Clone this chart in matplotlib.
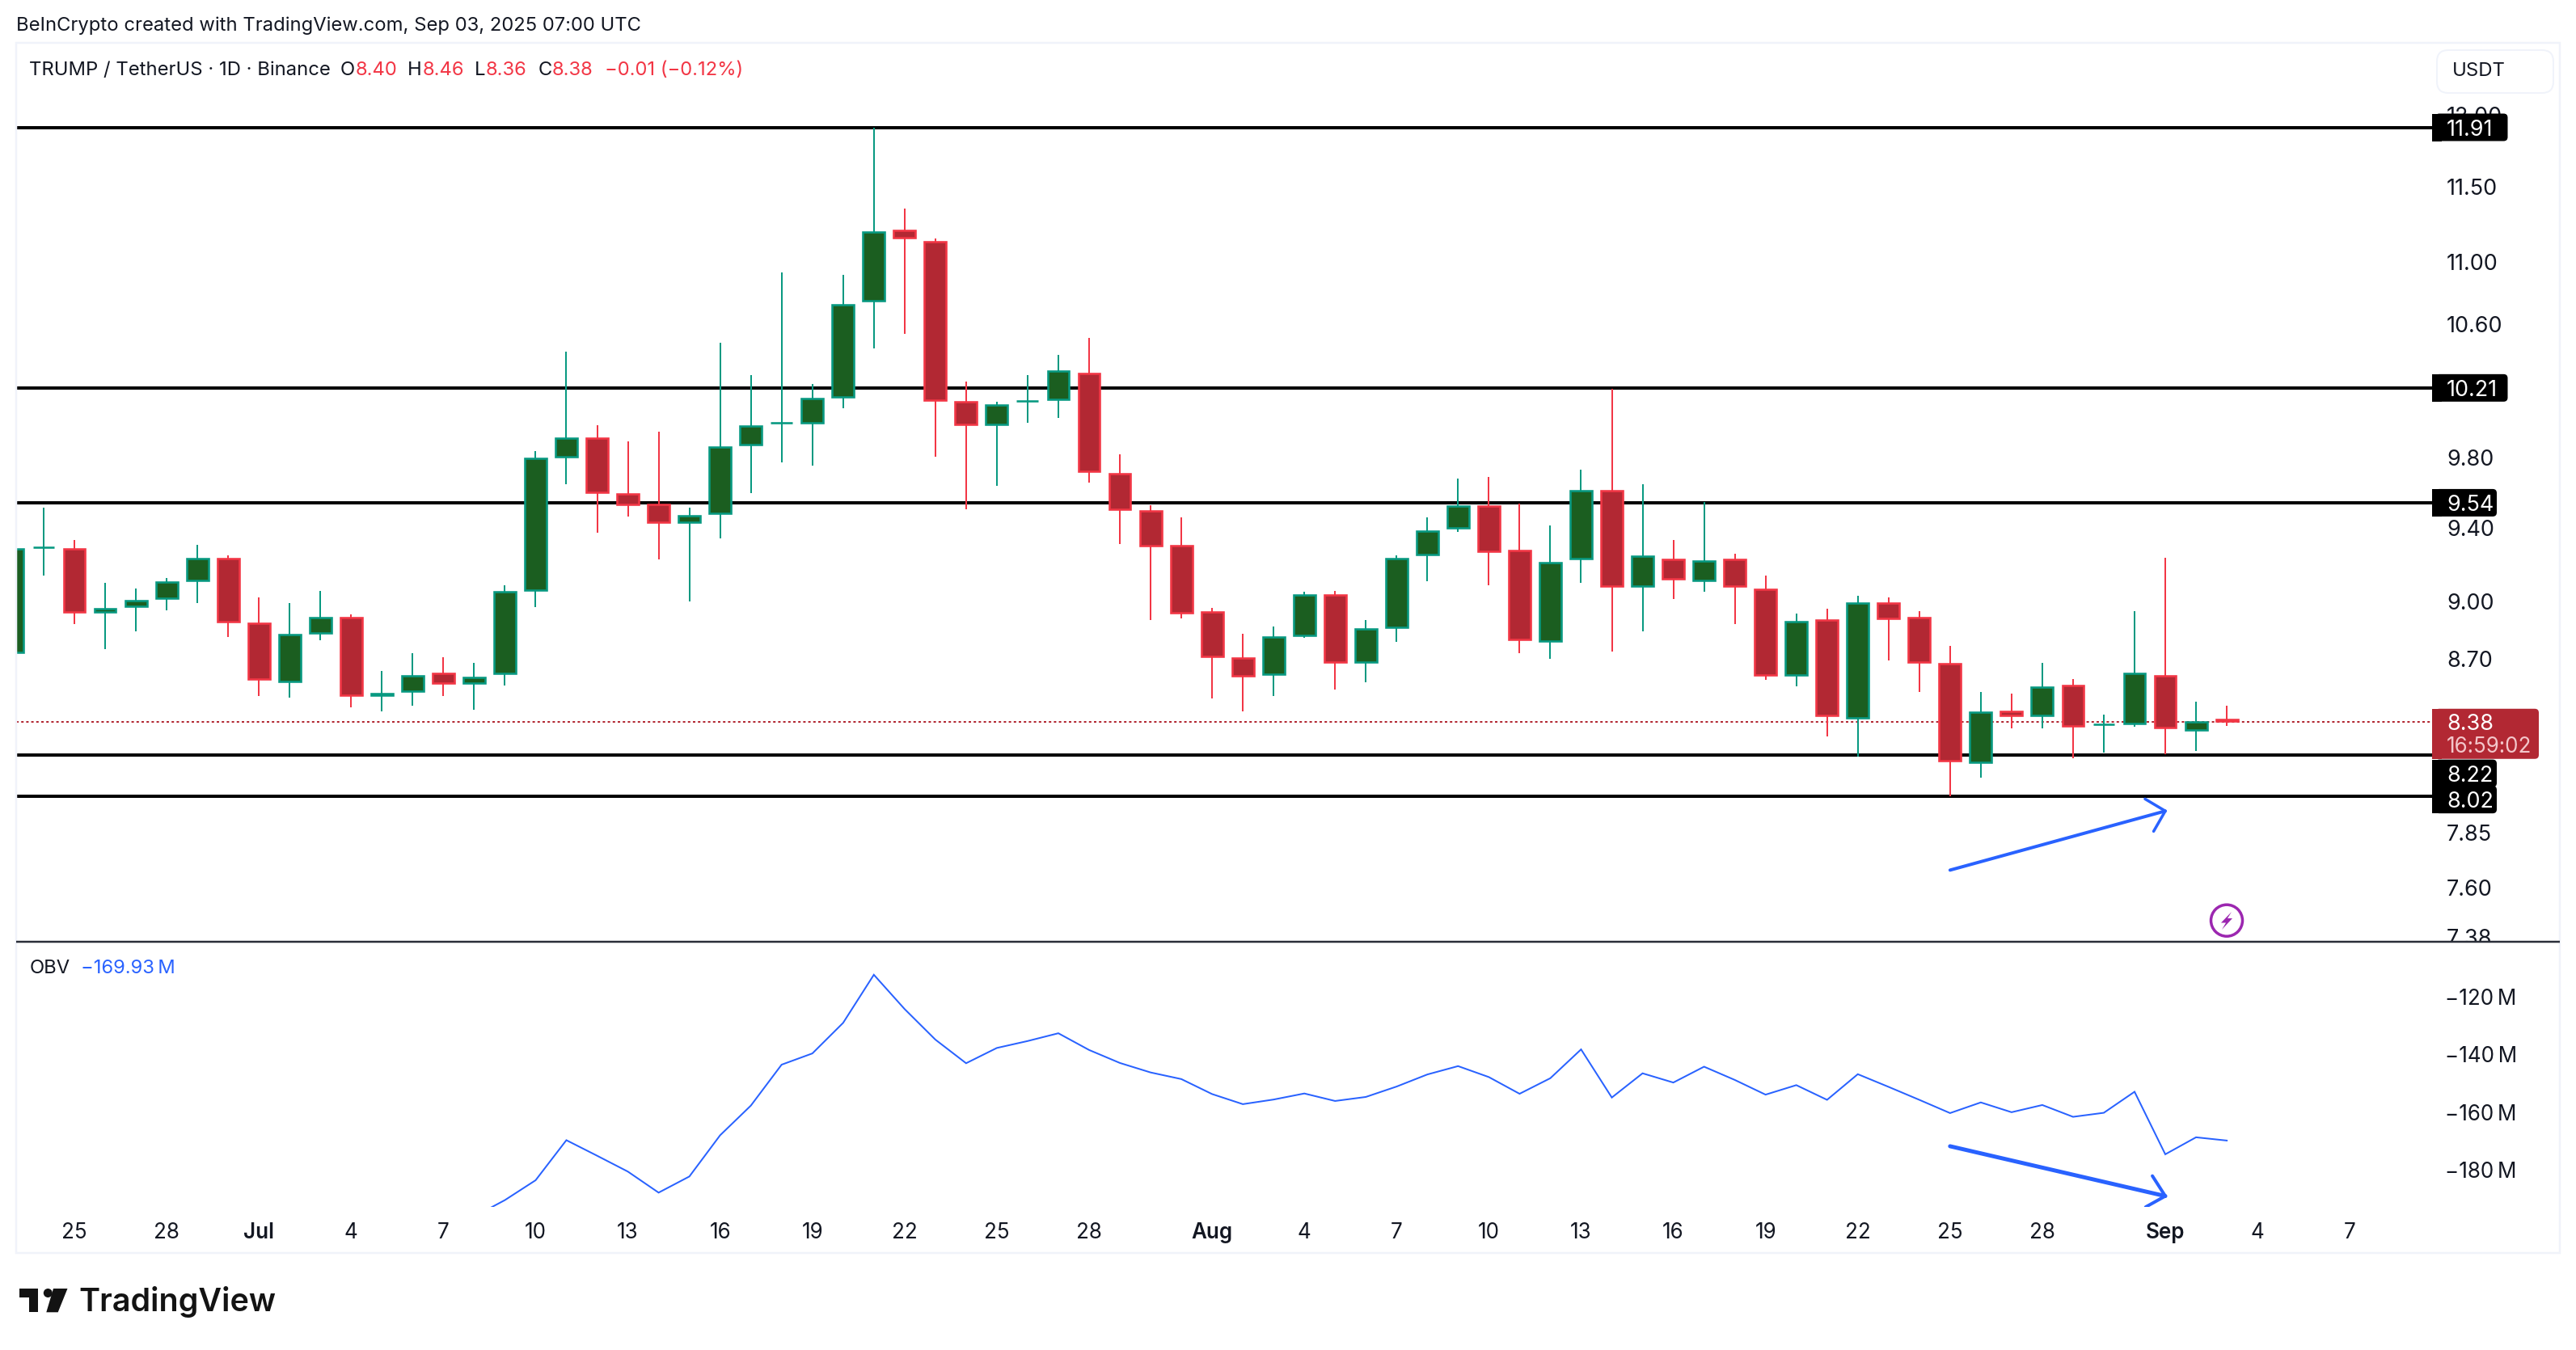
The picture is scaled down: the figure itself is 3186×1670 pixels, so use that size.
import numpy as np
import matplotlib
matplotlib.use("Agg")
import matplotlib.pyplot as plt
from matplotlib.patches import Rectangle, FancyBboxPatch, Circle, Polygon

W, H = 3186, 1670

# ---- data -------------------------------------------------------------
# day offset from 25 Jun 2025
days = list(range(-2, 71))
opens = [8.728,9.288,9.288,8.936,8.966,9.009,9.107,9.234,8.889,8.577,8.829,8.919,8.507,8.528,8.630,8.569,8.618,9.056,9.799,9.917,9.594,9.535,9.427,9.475,9.865,9.999,9.996,10.150,10.745,11.215,11.137,10.134,9.987,10.128,10.134,10.306,9.713,9.499,9.306,8.949,8.708,8.616,8.815,9.039,8.677,8.857,9.245,9.394,9.526,9.279,8.785,9.223,9.616,9.077,9.233,9.107,9.233,9.069,8.611,8.906,8.397,8.996,8.920,8.679,8.180,8.437,8.409,8.567,8.366,8.367,8.617,8.336,8.40]
closes = [9.288,9.292,8.936,8.966,9.009,9.107,9.234,8.889,8.589,8.829,8.919,8.507,8.528,8.618,8.569,8.609,9.056,9.799,9.917,9.594,9.526,9.427,9.475,9.865,9.987,10.007,10.150,10.733,11.205,11.151,10.128,9.987,10.114,10.136,10.317,9.714,9.499,9.295,8.934,8.706,8.608,8.816,9.039,8.677,8.859,9.234,9.387,9.526,9.263,8.793,9.216,9.616,9.077,9.247,9.117,9.224,9.077,8.611,8.899,8.409,8.996,8.906,8.679,8.187,8.436,8.409,8.559,8.356,8.374,8.629,8.348,8.388,8.38]
highs = [9.288,9.510,9.330,9.100,9.070,9.126,9.307,9.249,9.019,8.989,9.057,8.929,8.639,8.729,8.709,8.680,9.087,9.838,10.429,9.989,9.890,9.947,9.510,10.488,10.290,10.929,10.236,10.918,11.91,11.349,11.153,10.246,10.127,10.290,10.409,10.518,9.819,9.528,9.460,8.967,8.830,8.869,9.049,9.056,8.899,9.249,9.460,9.678,9.687,9.535,9.411,9.730,10.206,9.645,9.330,9.546,9.258,9.139,8.937,8.959,9.028,9.019,8.950,8.766,8.529,8.521,8.680,8.598,8.418,8.950,9.235,8.480,8.46]
lows = [8.728,9.140,8.879,8.751,8.840,8.952,8.990,8.811,8.510,8.501,8.797,8.452,8.432,8.461,8.510,8.440,8.563,8.969,9.646,9.371,9.461,9.227,8.999,9.340,9.596,9.769,9.752,10.090,10.450,10.540,9.802,9.502,9.637,10.001,10.029,9.655,9.309,8.899,8.908,8.498,8.432,8.510,8.809,8.541,8.578,8.788,9.109,9.379,9.087,8.729,8.701,9.100,8.737,8.840,9.011,9.051,8.880,8.591,8.560,8.311,8.209,8.690,8.530,8.021,8.111,8.350,8.350,8.202,8.229,8.358,8.221,8.240,8.36]

obv_days = list(range(13, 71))
obv = [-196.3,-190.6,-183.7,-169.8,-175.2,-180.7,-188.0,-182.4,-168.1,-157.8,-143.6,-139.7,-129.1,-112.4,-124.3,-134.9,-143.1,-137.8,-135.4,-132.7,-138.5,-143.0,-146.3,-148.6,-153.8,-157.3,-155.7,-153.6,-156.2,-154.8,-151.2,-147.0,-144.1,-147.9,-153.7,-148.3,-138.3,-155.0,-146.6,-149.8,-144.3,-148.9,-154.0,-150.7,-155.8,-146.9,-151.3,-155.8,-160.4,-156.7,-160.1,-157.6,-161.7,-160.3,-153.0,-174.7,-168.8,-169.93]

levels = [11.91, 10.21, 9.54, 8.22, 8.02]
last_price = 8.38
price_ticks = [12.00, 11.50, 11.00, 10.60, 9.80, 9.40, 9.00, 8.70, 7.85, 7.60, 7.38]
obv_ticks = [-120, -140, -160, -180]
time_ticks = [0,3,6,9,12,15,18,21,24,27,30,33,37,40,43,46,49,52,55,58,61,64,68,71,74]
time_labels = ["25","28","Jul","4","7","10","13","16","19","22","25","28","Aug","4","7","10","13","16","19","22","25","28","Sep","4","7"]
bold_labels = ["Jul","Aug","Sep"]

# hand-drawn arrows: (day, value) points
arrow_price_line = [(61.0, 7.678), (68.0, 7.951)]
arrow_price_head = [(67.34, 8.008), (68.0, 7.951), (67.62, 7.856)]
arrow_obv_line = [(61.0, -171.9), (68.0, -189.2)]
arrow_obv_head = [(67.58, -182.2), (68.0, -189.2), (67.36, -193.0)]

# ---- styles ------------------------------------------------------------
INK = "#131722"; RED = "#f23645"; RED_FILL = "#b22833"
GREEN = "#089981"; GREEN_FILL = "#1b5e20"; BLUE = "#2962ff"
FONT = "Inter"
plt.rcParams["font.family"] = [FONT, "DejaVu Sans"]

PX = 72 / 100  # points per pixel at dpi=100
X0, PPD = 92.0, 38.03           # pixel of day 0, pixels per day
PANE_L, PANE_R = 20, 3008
P_TOP, P_BOT = 53, 1165
O_BOT = 1493
SCALE = 2093.0                  # pixels per unit of ln(price)
DY = 3                          # optical centring of text

def price_at(y):
    return 11.91 * np.exp(-(y - 157.5) / SCALE)
def price_y(p):
    return 157.5 + SCALE * np.log(11.91 / p)
def obv_at(y):
    return -120 - (y - 1232.9) / 3.565

fig = plt.figure(figsize=(W / 100, H / 100), dpi=100, facecolor="white")

def make_axes(l, r, t, b, **kw):
    ax = fig.add_axes([l / W, 1 - b / H, (r - l) / W, (b - t) / H], **kw)
    for s in ax.spines.values():
        s.set_visible(False)
    ax.set_xticks([]); ax.set_yticks([])
    ax.patch.set_alpha(0)
    return ax

xlim = ((PANE_L - X0) / PPD, (PANE_R - X0) / PPD)

# ---- price pane --------------------------------------------------------
ax = make_axes(PANE_L, PANE_R, P_TOP, P_BOT)
ax.set_yscale("log")
ax.set_xlim(*xlim)
ax.set_ylim(price_at(P_BOT), price_at(P_TOP))
ax.minorticks_off(); ax.set_yticks([]); ax.set_xticks([])

for lv in levels:
    ax.axhline(lv, color="black", lw=4 * PX, zorder=1, solid_capstyle="butt")
ax.axhline(last_price, color=RED_FILL, lw=2 * PX, ls=(0, (1.5, 1.6)), zorder=1.5)

d = np.array(days, float); o = np.array(opens); c = np.array(closes)
hi = np.array(highs); lo = np.array(lows)
up = c >= o
ax.vlines(d[up], lo[up], hi[up], color=GREEN, lw=2 * PX, zorder=2)
ax.vlines(d[~up], lo[~up], hi[~up], color=RED, lw=2 * PX, zorder=2)

edge = 2.6
pad = np.exp(edge / 2 / SCALE)
top = np.maximum(o, c) / pad
bot = np.minimum(o, c) * pad
mid = np.sqrt(o * c)
thin = top <= bot
top[thin] = mid[thin]; bot[thin] = mid[thin]
bw = (29.5 - edge) / PPD
for mask, fc, ec in ((up, GREEN_FILL, GREEN), (~up, RED_FILL, RED)):
    ax.bar(d[mask], (top - bot)[mask], width=bw, bottom=bot[mask], color=fc,
           edgecolor=ec, linewidth=edge * PX, zorder=3)

ax.plot(*zip(*arrow_price_line), color=BLUE, lw=4 * PX, zorder=5, solid_capstyle="round")
ax.plot(*zip(*arrow_price_head), color=BLUE, lw=3.5 * PX, zorder=5,
        solid_capstyle="round", solid_joinstyle="round")

# ---- OBV pane ----------------------------------------------------------
ax2 = make_axes(PANE_L, PANE_R, P_BOT, O_BOT)
ax2.set_xlim(*xlim)
ax2.set_ylim(obv_at(O_BOT), obv_at(P_BOT))
ax2.plot(obv_days, obv, color=BLUE, lw=2 * PX, zorder=3, solid_joinstyle="miter")
ax2.plot(*zip(*arrow_obv_line), color=BLUE, lw=5 * PX, zorder=5, solid_capstyle="round")
ax2.plot(*zip(*arrow_obv_head), color=BLUE, lw=4 * PX, zorder=5,
         solid_capstyle="round", solid_joinstyle="round")

# ---- price scale -------------------------------------------------------
ps = make_axes(PANE_R, 3166, P_TOP, P_BOT)
ps.set_xlim(PANE_R, 3166)
ps.set_ylim(P_BOT, P_TOP)   # pixel rows, filled from the price scale below
for t in price_ticks:
    ps.text(3026, price_y(t) + DY, f"{t:.2f}", fontsize=27 * PX, color=INK, va="center", ha="left",
            clip_on=True, zorder=1)

# ---- overlay in pixel coordinates -------------------------------------
ov = fig.add_axes([0, 0, 1, 1], zorder=10)
ov.set_xlim(0, W); ov.set_ylim(H, 0); ov.axis("off"); ov.patch.set_alpha(0)

def T(x, y, s, color=INK, fs=27, ha="left", weight="normal", **kw):
    return ov.text(x, y + DY, s, color=color, fontsize=fs * PX, ha=ha, va="center",
                   fontweight=weight, **kw)

ov.add_patch(Rectangle((20, 53), 3146, 1496.5, fill=False, ec="#f0f3fa", lw=2.5 * PX, zorder=0))
ov.plot([20, 3166], [P_BOT, P_BOT], color="#2a2e39", lw=2.5 * PX, zorder=1, solid_capstyle="butt")

T(20, 29, "BeInCrypto created with TradingView.com, Sep 03, 2025 07:00 UTC", fs=23.8)
T(36, 84, "TRUMP / TetherUS · 1D · Binance", fs=23.8)
for x, s, col in [(420.5, "O", INK), (439.5, "8.40", RED), (504, "H", INK), (522.5, "8.46", RED),
                  (587, "L", INK), (601, "8.36", RED), (666, "C", INK), (683, "8.38", RED),
                  (748.5, "−0.01 (−0.12%)", RED)]:
    T(x, 84, s, col, fs=23.8)

ov.add_patch(FancyBboxPatch((3022, 70), 128, 37, boxstyle="round,pad=8,rounding_size=14",
                            fc="white", ec="#f0f3fa", lw=2 * PX, zorder=1))
T(3033, 85, "USDT", fs=24, zorder=2)

def tag(y0, y1, right, fc):
    ov.add_patch(FancyBboxPatch((3012, y0), right - 3012, y1 - y0, boxstyle="round,pad=0,rounding_size=5",
                                fc=fc, ec="none", zorder=3, mutation_aspect=1))
    ov.add_patch(Rectangle((3008, y0), 12, y1 - y0, fc=fc, ec="none", zorder=3))

tags = [(11.91, 0, 3101.5), (10.21, 0, 3101.5), (9.54, 0, 3088), (8.22, 23, 3088), (8.02, 4, 3088)]
for v, off, right in tags:
    yc = price_y(v) + off
    tag(yc - 17, yc + 17, right, "black")
    T(3026, yc, f"{v:.2f}", "white", zorder=4)

y_last = price_y(last_price)
tag(y_last - 16.5, y_last + 45.5, 3140, RED_FILL)
T(3026, y_last, f"{last_price:.2f}", "white", zorder=4)
T(3026, y_last + 28, "16:59:02", "#f3c6ca", zorder=4, fs=26)

for t in obv_ticks:
    T(3024.5, 1232.9 + (-120 - t) * 3.565, f"−{abs(t)}\u2009M", zorder=4, fs=26)

for dd, lab in zip(time_ticks, time_labels):
    T(X0 + PPD * dd, 1521.5, lab, ha="center", fs=26, weight="semibold" if lab in bold_labels else "normal")

T(36.5, 1195, "OBV", fs=23.8)
T(100, 1195, "−169.93\u2009M", BLUE, fs=23.8)

# lightning badge
ov.add_patch(Circle((2754, 1138.7), 19.5, fill=False, ec="#9c27b0", lw=3.5 * PX, zorder=4))
ov.add_patch(Polygon([(2760, 1128), (2747, 1141.5), (2753, 1141.5), (2748, 1150),
                      (2761, 1136), (2755, 1136)], fc="#9c27b0", ec="none", zorder=4))

# logo
LOGO = "#131313"
ov.add_patch(Polygon([(24, 1594), (46.7, 1594), (46.7, 1623.3), (35.7, 1623.3), (35.7, 1605), (24, 1605)],
                     fc=LOGO, ec="none"))
ov.add_patch(Circle((59.3, 1599.5), 5.5, fc=LOGO, ec="none"))
ov.add_patch(Polygon([(66, 1594), (83.5, 1594), (71.7, 1623.3), (57.3, 1623.3)], fc=LOGO, ec="none"))
T(97, 1608, "TradingView", LOGO, fs=39.5, weight="semibold")

fig.savefig("out.png", dpi=100, facecolor="white")
